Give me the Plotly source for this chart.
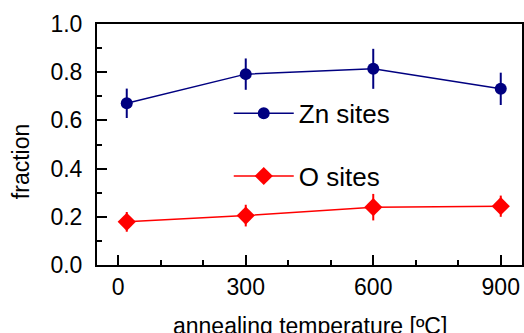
import plotly.graph_objects as go

temps = [20, 300, 600, 900]
zn_frac = [0.671, 0.792, 0.814, 0.731]
zn_err = [0.061, 0.065, 0.083, 0.067]
o_frac = [0.179, 0.205, 0.240, 0.244]
o_err = [0.041, 0.045, 0.055, 0.044]
x_ticks = [0, 300, 600, 900]
y_ticks = [0.0, 0.2, 0.4, 0.6, 0.8, 1.0]

navy = "#000080"
red = "#ff0000"
FONT = "Liberation Sans, Arial, sans-serif"

fig = go.Figure()
fig.add_trace(go.Scatter(
    x=temps, y=zn_frac, name="Zn sites", mode="lines+markers",
    line=dict(color=navy, width=1.5),
    marker=dict(symbol="circle", size=12, color=navy),
    error_y=dict(type="data", array=zn_err, color=navy, thickness=2, width=0),
    legendgroup="a",
))
fig.add_trace(go.Scatter(
    x=temps, y=o_frac, name="O sites", mode="lines+markers",
    line=dict(color=red, width=1.5),
    marker=dict(symbol="diamond", size=14, color=red),
    error_y=dict(type="data", array=o_err, color=red, thickness=2, width=0),
    legendgroup="b",
))

axis_common = dict(
    showline=True, linecolor="black", linewidth=2, mirror=True,
    ticks="inside", ticklen=10, tickwidth=1.5, tickcolor="black",
    showgrid=False, zeroline=False, automargin=False,
    tickfont=dict(family=FONT, size=23, color="black"),
)
fig.update_xaxes(range=[-50, 950], tickvals=x_ticks, ticktext=[str(v) for v in x_ticks],
                 ticklabelstandoff=0,
                 minor=dict(dtick=100, tick0=0, ticks="inside", ticklen=5, tickwidth=1.5, tickcolor="black"),
                 **axis_common)
fig.update_yaxes(range=[0, 1.0], tickvals=y_ticks, ticktext=[f"{v:.1f}" for v in y_ticks],
                 ticklabelstandoff=8,
                 minor=dict(dtick=0.1, tick0=0, ticks="inside", ticklen=5, tickwidth=1.5, tickcolor="black"),
                 **axis_common)

fig.update_layout(
    width=524, height=333,
    margin=dict(l=97, r=2, t=24, b=68),
    paper_bgcolor="white", plot_bgcolor="white",
    font=dict(family=FONT, color="black"),
    showlegend=True,
    legend=dict(
        x=0.31, y=0.727, xanchor="left", yanchor="top",
        bgcolor="rgba(0,0,0,0)", borderwidth=0,
        font=dict(family=FONT, size=26, color="black"),
        itemwidth=60, traceorder="grouped", tracegroupgap=26,
    ),
    annotations=[
        dict(text="fraction", xref="paper", yref="paper", x=-0.177, y=0.43,
             xanchor="center", yanchor="middle",
             textangle=-90, showarrow=False, font=dict(family=FONT, size=23, color="black")),
        dict(text="annealing temperature [ºC]", xref="paper", yref="paper", x=0.5, y=-0.252,
             yanchor="middle", showarrow=False, font=dict(family=FONT, size=23, color="black")),
    ],
)

fig.write_html("out.html", config={"displayModeBar": False},
               post_script="document.body.style.margin='0';")
